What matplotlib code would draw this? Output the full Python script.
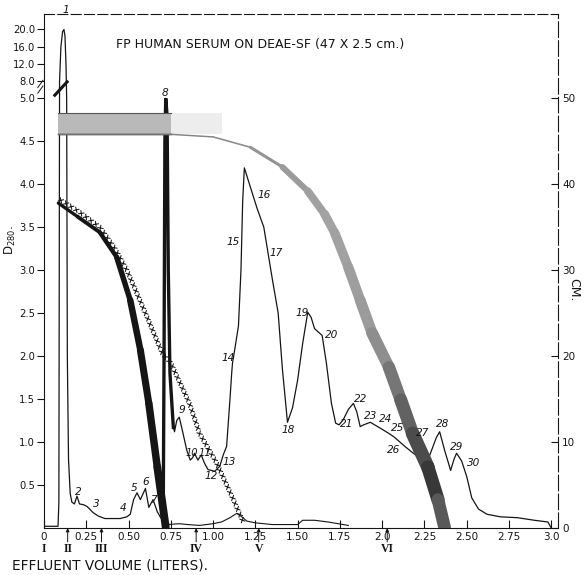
import numpy as np
import matplotlib
matplotlib.use('Agg')
import matplotlib.pyplot as plt
from matplotlib.collections import LineCollection
import matplotlib.patheffects as pe

# ---------------- data ----------------
# main absorbance trace, D280 (left axis)
trace_x = [0.0, 0.083, 0.088, 0.092, 0.100, 0.110, 0.118, 0.124, 0.130, 0.134, 0.138,
           0.145, 0.155, 0.165, 0.180, 0.195, 0.210, 0.235, 0.255, 0.270, 0.290,
           0.320, 0.360, 0.450, 0.490, 0.510, 0.530, 0.550, 0.570, 0.600, 0.620,
           0.645, 0.670, 0.690, 0.705, 0.710, 0.715, 0.720, 0.728, 0.735, 0.745,
           0.765, 0.772, 0.785, 0.800, 0.820, 0.845, 0.865, 0.880, 0.890, 0.910,
           0.930, 0.950, 0.970, 1.010, 1.040, 1.060, 1.080, 1.100, 1.110, 1.115,
           1.130, 1.150, 1.165, 1.175, 1.185, 1.220, 1.260, 1.300, 1.350, 1.385,
           1.410, 1.440, 1.470, 1.500, 1.530, 1.560, 1.580, 1.600, 1.645, 1.670,
           1.700, 1.725, 1.745, 1.770, 1.800, 1.830, 1.850, 1.870, 1.890, 1.930,
           1.990, 2.040, 2.070, 2.140, 2.210, 2.240, 2.280, 2.320, 2.340, 2.370,
           2.405, 2.425, 2.440, 2.470, 2.500, 2.530, 2.570, 2.620, 2.700, 2.800,
           2.900, 2.980, 3.000]
trace_d = [0.02, 0.02, 0.30, 8.0, 16.0, 19.5, 20.0, 18.5, 12.0, 5.0, 2.0,
           0.80, 0.40, 0.30, 0.28, 0.37, 0.28, 0.27, 0.25, 0.22, 0.18,
           0.14, 0.11, 0.11, 0.13, 0.16, 0.33, 0.41, 0.33, 0.46, 0.24,
           0.33, 0.19, 0.12, 0.10, 2.0, 4.5, 5.0, 4.8, 3.0, 1.8,
           1.17, 1.12, 1.25, 1.29, 1.12, 0.90, 0.79, 0.82, 0.87, 0.79,
           0.85, 0.75, 0.68, 0.66, 0.72, 0.85, 0.95, 1.50, 1.80, 1.92,
           2.10, 2.35, 3.00, 3.80, 4.19, 3.97, 3.72, 3.50, 2.90, 2.50,
           1.85, 1.23, 1.40, 1.72, 2.15, 2.51, 2.45, 2.32, 2.24, 1.92,
           1.45, 1.22, 1.20, 1.26, 1.38, 1.45, 1.35, 1.18, 1.20, 1.23,
           1.16, 1.10, 1.06, 0.94, 0.83, 0.95, 0.84, 1.05, 1.12, 0.90,
           0.67, 0.80, 0.87, 0.78, 0.60, 0.35, 0.22, 0.16, 0.13, 0.12,
           0.09, 0.07, 0.0]

# second (baseline) trace, D280
trace2_x = [0.73, 0.80, 0.85, 0.92, 1.00, 1.05, 1.10, 1.14, 1.17, 1.20, 1.25,
            1.35, 1.50, 1.53, 1.60, 1.68, 1.80]
trace2_d = [0.04, 0.05, 0.04, 0.03, 0.05, 0.07, 0.12, 0.17, 0.13, 0.08, 0.06,
            0.04, 0.04, 0.09, 0.09, 0.07, 0.03]

# gradient level curves (right axis, cm)
black_x = [0.085, 0.20, 0.33, 0.43, 0.51, 0.57, 0.62, 0.67, 0.72]
black_cm = [37.8, 36.2, 34.4, 31.5, 26.5, 20.7, 14.5, 7.1, 0.1]

cross_x = [0.085, 0.20, 0.33, 0.42, 0.49, 0.60, 0.70, 0.75, 0.86, 0.92, 1.02, 1.12, 1.18]
cross_cm = [38.3, 36.9, 35.0, 32.5, 30.0, 25.0, 20.3, 19.2, 14.5, 11.0, 7.6, 3.3, 0.6]

grad_x = [0.085, 0.75, 1.00, 1.22, 1.41, 1.56, 1.66, 1.72, 1.80, 1.87, 1.94, 2.04,
          2.11, 2.18, 2.27, 2.33, 2.37]
grad_cm = [45.8, 45.8, 45.5, 44.3, 42.0, 39.2, 36.5, 34.3, 30.3, 26.5, 22.7, 18.7,
           14.9, 11.0, 7.1, 3.3, 0.0]
top_band_x = [0.085, 0.75]
top_band_lo, top_band_hi = 45.8, 48.3

# peak labels (position in x, cm)
peak_ids = [str(i) for i in range(1, 31)]
peak_lx = [0.13, 0.20, 0.31, 0.47, 0.53, 0.60, 0.645, 0.715, 0.815, 0.874,
           0.952, 0.99, 1.095, 1.09, 1.12, 1.30, 1.37, 1.445, 1.525, 1.70,
           1.79, 1.875, 1.93, 2.02, 2.09, 2.07, 2.24, 2.355, 2.44, 2.54]
peak_lcm = [60.3, 4.2, 2.8, 2.3, 4.7, 5.3, 3.3, 50.6, 13.7, 8.7,
            8.7, 6.0, 7.7, 19.8, 33.3, 38.8, 32.0, 11.4, 25.0, 22.4,
            12.1, 15.0, 13.0, 12.7, 11.6, 9.1, 11.0, 12.1, 9.4, 7.6]

# fraction markers
frac_names = ['I', 'II', 'III', 'IV', 'V', 'VI']
frac_x = [0.0, 0.14, 0.34, 0.90, 1.27, 2.03]

xticks = [0, 0.25, 0.5, 0.75, 1.0, 1.25, 1.5, 1.75, 2.0, 2.25, 2.5, 2.75, 3.0]
xticklabels = ['0', '0.25', '0.50', '0.75', '1.00', '1.25', '1.50', '1.75', '2.0',
               '2.25', '2.50', '2.75', '3.0']
yticks = [0.5, 1.0, 1.5, 2.0, 2.5, 3.0, 3.5, 4.0, 4.5, 5.0, 8.0, 12.0, 16.0, 20.0]
cm_ticks = [0, 10, 20, 30, 40, 50]

# broken left scale: D values -> linear plotting units
brk_d = [-10, 0, 5, 8, 20, 40]
brk_t = [-10, 0, 5, 5.2, 5.8, 6.8]

def fwd(y):
    return np.interp(np.asarray(y, dtype=float), brk_d, brk_t)

def inv(t):
    return np.interp(np.asarray(t, dtype=float), brk_t, brk_d)

# ---------------- figure ----------------
plt.rcParams['font.family'] = ['DejaVu Sans']
fig = plt.figure(figsize=(5.85, 5.75), dpi=100)
ax = fig.add_axes([44 / 585, 47 / 575, 514 / 585, 514 / 575])
ax.set_yscale('function', functions=(fwd, inv))
ax.set_xlim(0, 3.04)
ax.set_ylim(0, float(inv(5.98)))

ax2 = ax.twinx()
ax2.set_ylim(0, 59.8)

ink = '#151515'

# main traces
tx = np.array(trace_x)
td = np.array(trace_d)
ax.plot(tx, td, color=ink, lw=0.9, zorder=3)
sel = (tx >= 0.705) & (tx <= 0.765)
ax.plot(tx[sel], td[sel], color=ink, lw=2.4, zorder=3, solid_joinstyle='miter')
ax.plot(trace2_x, trace2_d, color=ink, lw=0.8, zorder=3)

# top stippled band
ax2.fill_between(top_band_x, top_band_lo, top_band_hi, color='#b9b9b9', lw=0, zorder=1)
ax2.plot(top_band_x, [top_band_hi] * 2, color='#555555', lw=0.8, zorder=1)
ax2.plot(top_band_x, [top_band_lo] * 2, color='#333333', lw=1.0, zorder=1)
ax2.fill_between([0.75, 1.05], top_band_lo, top_band_hi, color='#ededed', lw=0, zorder=0.5)

# gray stippled gradient band with varying width
gx = np.array(grad_x)
gy = np.array(grad_cm)
segs = [[(gx[i], gy[i]), (gx[i + 1], gy[i + 1])] for i in range(len(gx) - 1)]
mid = (gx[:-1] + gx[1:]) / 2
widths = np.interp(mid, [0.75, 1.2, 1.35, 1.5, 1.7, 2.0, 2.25, 2.37],
                   [1.0, 1.2, 2.5, 4.5, 6.5, 8.5, 10.0, 9.0])
levels = np.interp(mid, [0.5, 1.7, 1.95, 2.15, 2.3, 2.37],
                   [0.45, 0.64, 0.6, 0.38, 0.22, 0.4])
cols = [(l, l, l) for l in levels]
lc = LineCollection(segs, linewidths=widths, colors=cols, capstyle='round',
                    joinstyle='round', zorder=2)
ax2.add_collection(lc)

# solid black band with increasing width
bx = np.array(black_x)
by = np.array(black_cm)
bsegs = [[(bx[i], by[i]), (bx[i + 1], by[i + 1])] for i in range(len(bx) - 1)]
bmid = (bx[:-1] + bx[1:]) / 2
bw = np.interp(bmid, [0.085, 0.4, 0.55, 0.72], [2.2, 3.2, 4.8, 5.8])
blc = LineCollection(bsegs, linewidths=bw, colors=ink, capstyle='round',
                     joinstyle='round', zorder=2)
ax2.add_collection(blc)

# cross-marked curve
xfx = [pe.TickedStroke(spacing=4.3, angle=a, length=0.45, linewidth=0.75)
       for a in (45, 135, 225, 315)]
ax2.plot(cross_x, cross_cm, color=ink, lw=0.75, path_effects=xfx, zorder=2)

# peak numbers
for name, px, py in zip(peak_ids, peak_lx, peak_lcm):
    fs = 7.0 if name in ('10', '11') else 7.6
    ax2.text(px, py, name, fontsize=fs, style='italic', ha='center', va='center',
             color=ink, clip_on=False, zorder=4)

# axes styling
ax.set_xticks(xticks)
ax.set_xticklabels(xticklabels)
ax.set_yticks(yticks)
ax.set_yticklabels(['%.1f' % v for v in yticks])
ax.yaxis.set_minor_locator(matplotlib.ticker.NullLocator())
ax.tick_params(axis='x', direction='in', length=6, width=0.8, labelsize=7.5, pad=3,
               colors=ink)
ax.tick_params(axis='y', direction='out', length=5, width=0.8, labelsize=7.2, pad=1.5,
               colors=ink)
ax2.set_yticks(cm_ticks)
ax2.set_yticklabels([str(v) for v in cm_ticks])
ax2.tick_params(axis='y', direction='in', length=5, width=0.8, labelsize=7.5, pad=3,
                colors=ink)

for s in ('top', 'left', 'bottom'):
    ax2.spines[s].set_visible(False)
ax.spines['right'].set_visible(False)
ax.spines['top'].set_linestyle((0, (9, 3)))
for s in ('top', 'left', 'bottom'):
    ax.spines[s].set_linewidth(0.8)
    ax.spines[s].set_color(ink)
ax2.spines['right'].set_linewidth(0.8)
ax2.spines['right'].set_linestyle((0, (14, 3)))
ax2.spines['right'].set_color(ink)

# break marks
for dy in (0.0, 0.011):
    ax.plot([-0.012, -0.002], [0.846 + dy, 0.860 + dy], transform=ax.transAxes,
            color=ink, lw=0.7, clip_on=False)
ax.plot([0.021, 0.045], [0.842, 0.868], transform=ax.transAxes, color=ink, lw=2.2,
        clip_on=False, zorder=4)

# fraction markers
for name, fx in zip(frac_names, frac_x):
    if fx > 0:
        ax.annotate('', xy=(fx, 0), xytext=(fx, -0.027),
                    xycoords=('data', 'axes fraction'),
                    textcoords=('data', 'axes fraction'),
                    arrowprops=dict(arrowstyle='-|>', lw=0.7, color=ink,
                                    mutation_scale=5, shrinkA=0, shrinkB=0))
    ax.text(fx, -0.041, name, transform=ax.get_xaxis_transform(), ha='center',
            va='center', fontsize=8.5, fontweight='bold', family='Liberation Serif',
            color=ink)

# labels
ax.text(-0.062, -0.072, 'EFFLUENT VOLUME (LITERS).', transform=ax.transAxes,
        ha='left', va='center', fontsize=9.8, color=ink)
ax.text(0.42, 0.94, 'FP HUMAN SERUM ON DEAE-SF (47 X 2.5 cm.)', transform=ax.transAxes,
        ha='center', va='center', fontsize=9, color=ink)
ax.text(-0.066, 0.56, r'D$_{280}$.', transform=ax.transAxes, rotation=90,
        ha='center', va='center', fontsize=8.5, color=ink)
ax.text(1.031, 0.463, 'CM.', transform=ax.transAxes, rotation=270,
        ha='center', va='center', fontsize=9, color=ink)

fig.savefig('out.png', dpi=100)
